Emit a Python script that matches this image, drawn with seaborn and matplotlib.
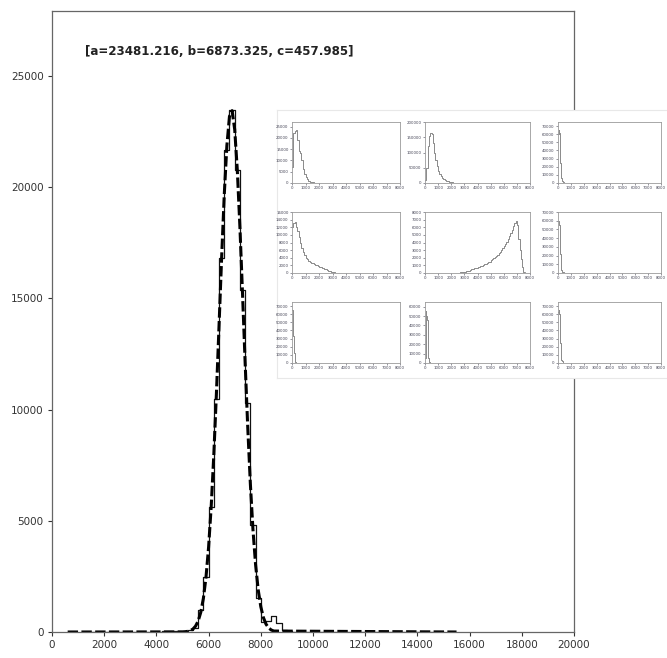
import numpy as np
import pandas as pd
import matplotlib
matplotlib.use("Agg")
import matplotlib.pyplot as plt
import seaborn as sns

# fitted gaussian parameters shown in the title
fit_a, fit_b, fit_c = 23481.216, 6873.325, 457.985

# main histogram (bin width 200)
main_bin_width = 200
main_hist_start = 1200
main_counts_core = [0, 40, 30, 40, 60, 60, 100, 180, 990, 2470, 5620, 10480, 16820,
                    21670, 23470, 20770, 15380, 10300, 4810, 1530, 450, 500, 700, 420,
                    100, 30, 0]
main_core_start = 4000
main_hist_end = 15000

# fit curve
fit_x = [600, 5000, 5100, 5200, 5300, 5400, 5500, 5600, 5700, 5800, 5900, 6000, 6100,
         6200, 6300, 6400, 6500, 6600, 6700, 6800, 6900, 7000, 7100, 7200, 7300, 7400,
         7500, 7600, 7700, 7800, 7900, 8000, 8100, 8200, 8300, 8400, 8500, 15500]
fit_y = [0, 5, 13, 30, 64, 133, 263, 493, 884, 1510, 2459, 3818, 5652, 7977, 10736,
         13776, 16855, 19658, 21863, 23185, 23440, 22596, 20767, 18198, 15204, 12112,
         9200, 6662, 4600, 3029, 1900, 1137, 649, 353, 183, 90, 43, 0]

main_xticks = list(range(0, 20001, 2000))
main_yticks = [0, 5000, 10000, 15000, 20000, 25000]

# 3x3 inset histograms
inset_counts = [
    [7000, 22000, 23000, 23300, 19000, 14000, 13500, 10000, 6000, 4000, 2500, 1600,
     1000, 600, 400, 250, 150, 80, 40, 20],
    [10000, 50000, 120000, 155000, 165000, 160000, 130000, 100000, 75000, 55000, 40000,
     30000, 22000, 16000, 12000, 9000, 7000, 5000, 3800, 2800, 2000, 1500, 1100, 800,
     600, 450, 300, 200, 150, 100, 60, 30, 10],
    [60000, 65000, 62000, 25000, 12000, 6000, 3000, 1500, 800, 400, 200, 100, 50, 20],
    [12000, 13000, 13500, 12000, 11000, 9500, 8000, 6500, 5500, 4700, 4000, 3600, 3200,
     2900, 2700, 2500, 2300, 2150, 2000, 1850, 1700, 1550, 1400, 1250, 1100, 950, 800,
     650, 500, 380, 260, 150, 80, 40, 20, 10, 5, 0],
    [20, 20, 30, 30, 40, 50, 60, 80, 100, 120, 150, 200, 250, 300, 400, 480, 560, 620,
     680, 720, 760, 800, 880, 950, 1050, 1120, 1200, 1300, 1400, 1500, 1650, 1800, 1950,
     2100, 2250, 2400, 2600, 2800, 3000, 3250, 3500, 3800, 4100, 4450, 4800, 5200, 5700,
     6200, 6600, 6800, 6300, 4500, 3000, 1800, 800, 100],
    [60000, 58000, 55000, 22000, 8000, 3000, 1500, 900, 600, 400, 300, 250, 200, 150,
     120, 100, 80, 60, 50, 40, 30, 20, 15, 10],
    [65000, 62000, 33000, 12000, 3000, 1000, 400, 150, 50],
    [5000, 55000, 50000, 46000, 18000, 5000, 1000, 300, 100, 30],
    [63000, 65000, 60000, 25000, 10000, 4000, 2000, 1000, 500, 250, 150, 100, 60, 40,
     20, 10],
]
inset_starts = [0, 0, 0, 0, 2000, 0, 0, 0, 0]
inset_widths = [100, 100, 50, 100, 100, 50, 50, 50, 50]
inset_ymax = [27000, 200000, 75000, 16000, 8000, 70000, 75000, 65000, 75000]
inset_ystep = [5000, 50000, 10000, 2000, 1000, 10000, 10000, 10000, 10000]
inset_xticks = list(range(0, 8001, 1000))

sns.set_style("ticks")
plt.rcParams["font.family"] = ["DejaVu Sans"]

W, H = 667, 658
fig = plt.figure(figsize=(W / 100, H / 100), dpi=100)


def px_axes(left, top, right, bottom):
    return [left / W, 1 - bottom / H, (right - left) / W, (bottom - top) / H]


def step_hist(ax, start, width, cnt, color, lw):
    n = len(cnt)
    x = start + width * (np.arange(n) + 0.5)
    df = pd.DataFrame({"x": x, "w": np.asarray(cnt, dtype=float)})
    sns.histplot(data=df, x="x", weights="w", bins=n, binrange=(start, start + width * n),
                 element="step", fill=False, color=color, linewidth=lw, ax=ax)


ax = fig.add_axes(px_axes(52, 11, 574, 632))
n_bins = (main_hist_end - main_hist_start) // main_bin_width
counts = np.zeros(n_bins)
i0 = (main_core_start - main_hist_start) // main_bin_width
counts[i0:i0 + len(main_counts_core)] = main_counts_core
step_hist(ax, main_hist_start, main_bin_width, counts, "#111111", 0.9)
sns.lineplot(x=fit_x, y=fit_y, color="black", linewidth=2.2, dashes=(3.4, 1.1), ax=ax)
ax.set_xlim(0, 20000)
ax.set_ylim(0, 27920)
ax.set_xticks(main_xticks)
ax.set_yticks(main_yticks)
ax.set_xlabel("")
ax.set_ylabel("")
ax.tick_params(labelsize=7.5, colors="#333333", length=3, width=0.8, pad=3)
for s in ax.spines.values():
    s.set_visible(True)
    s.set_color("#666666")
    s.set_linewidth(0.9)
ax.text(0.063, 0.934, "[a=23481.216, b=6873.325, c=457.985]", transform=ax.transAxes,
        fontsize=8.6, fontweight="bold", color="#222222", va="center")

# white backdrop of the inset panel
bg = fig.add_axes(px_axes(277, 110, 700, 378))
bg.set_facecolor("white")
bg.set_xticks([])
bg.set_yticks([])
for s in bg.spines.values():
    s.set_color("#e8e8e8")
    s.set_linewidth(0.8)

col_left = [292, 425, 558]
col_w = [108, 105, 103]
row_top = [122, 212, 302]
for k in range(9):
    r, c = divmod(k, 3)
    iax = fig.add_axes(px_axes(col_left[c], row_top[r], col_left[c] + col_w[c], row_top[r] + 61))
    step_hist(iax, inset_starts[k], inset_widths[k], inset_counts[k], "#8a8a8a", 0.7)
    iax.set_xlim(0, 8000)
    iax.set_ylim(0, inset_ymax[k])
    iax.set_xticks(inset_xticks)
    iax.set_yticks(np.arange(0, inset_ymax[k] + 1, inset_ystep[k]))
    iax.set_xlabel("")
    iax.set_ylabel("")
    iax.tick_params(labelsize=2.8, colors="#445", length=1.5, width=0.4, pad=1)
    for s in iax.spines.values():
        s.set_visible(True)
        s.set_color("#9a9a9a")
        s.set_linewidth(0.6)

fig.savefig("out.png", dpi=100)
